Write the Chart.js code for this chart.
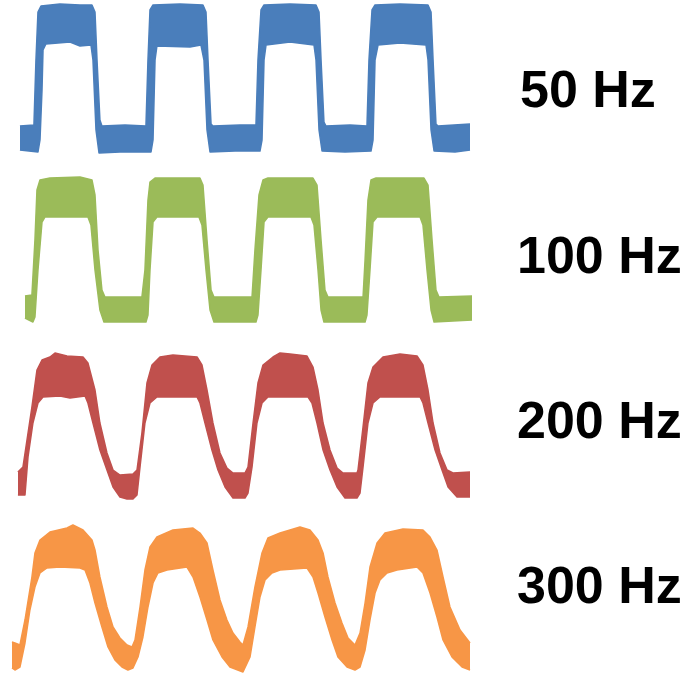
<!DOCTYPE html>
<html>
<head>
<meta charset="utf-8">
<script src="https://cdn.jsdelivr.net/npm/chart.js@4/dist/chart.umd.min.js"></script>
<style>
  html, body { margin: 0; padding: 0; background: #ffffff; }
  #wrap { position: relative; width: 688px; height: 677px; }
  #wrap canvas { position: absolute; left: 0; top: 0; }
  .freq {
    position: absolute;
    font-family: "Liberation Sans", Arial, sans-serif;
    font-weight: bold;
    font-size: 52px;
    line-height: 52px;
    color: #000000;
    white-space: nowrap;
  }
</style>
</head>
<body>
<div id="wrap"><canvas id="c" width="688" height="677"></canvas></div>
<script>
// Drive frequency of each captured trace
const freqLabels = ['50 Hz', '100 Hz', '200 Hz', '300 Hz'];

// Envelopes of each noisy trace: [time in drive cycles, signal level (V)]
// upper = top edge of the noise band, lower = bottom edge
const upper50 = [
  [-0.143, 0.12], [-0.018, 0.13], [0, 0.78], [0.018, 1.26], [0.045, 1.32], [0.214, 1.34], [0.393, 1.33],
  [0.5, 1.33], [0.527, 1.26], [0.545, 0.78], [0.571, 0.18], [0.589, 0.12], [0.795, 0.13], [0.982, 0.12],
  [1.0, 0.78], [1.018, 1.28], [1.045, 1.33], [1.286, 1.34], [1.491, 1.33], [1.518, 1.26], [1.536, 0.78],
  [1.563, 0.14], [1.580, 0.12], [1.821, 0.13], [1.964, 0.13], [1.982, 0.78], [2.009, 1.28], [2.036, 1.33],
  [2.268, 1.34], [2.5, 1.33], [2.527, 1.26], [2.545, 0.78], [2.571, 0.16], [2.589, 0.12], [2.804, 0.13],
  [2.955, 0.12], [2.973, 0.78], [3.0, 1.28], [3.027, 1.33], [3.25, 1.34], [3.5, 1.33], [3.527, 1.26],
  [3.545, 0.78], [3.571, 0.14], [3.589, 0.12], [3.875, 0.14]
];
const lower50 = [
  [-0.143, -0.12], [0.018, -0.14], [0.036, -0.02], [0.054, 0.48], [0.063, 0.88], [0.089, 0.94], [0.304, 0.96],
  [0.393, 0.92], [0.491, 0.93], [0.509, 0.78], [0.536, 0.08], [0.563, -0.15], [0.75, -0.14], [1.027, -0.14],
  [1.045, -0.02], [1.063, 0.78], [1.080, 0.92], [1.375, 0.91], [1.473, 0.93], [1.5, 0.78], [1.527, 0.08],
  [1.554, -0.14], [1.777, -0.13], [2.0, -0.13], [2.018, -0.02], [2.036, 0.78], [2.054, 0.93], [2.268, 0.96],
  [2.482, 0.93], [2.5, 0.78], [2.527, 0.08], [2.554, -0.13], [2.759, -0.14], [2.991, -0.13], [3.009, -0.02],
  [3.027, 0.78], [3.054, 0.93], [3.25, 0.95], [3.482, 0.93], [3.5, 0.78], [3.527, 0.08], [3.554, -0.13],
  [3.741, -0.14], [3.875, -0.12]
];

const upper100 = [
  [-0.098, 0.14], [-0.036, 0.15], [-0.009, 0.70], [0.009, 1.20], [0.036, 1.30], [0.125, 1.32], [0.393, 1.33],
  [0.5, 1.30], [0.527, 1.15], [0.554, 0.60], [0.589, 0.20], [0.616, 0.13], [0.946, 0.13], [0.973, 0.40],
  [1.0, 1.10], [1.018, 1.28], [1.063, 1.32], [1.464, 1.32], [1.491, 1.25], [1.527, 0.70], [1.563, 0.20],
  [1.589, 0.13], [1.929, 0.13], [1.955, 0.60], [1.991, 1.15], [2.027, 1.30], [2.071, 1.32], [2.473, 1.32],
  [2.509, 1.25], [2.545, 0.70], [2.580, 0.20], [2.607, 0.13], [2.920, 0.13], [2.938, 0.50], [2.964, 1.10],
  [2.991, 1.30], [3.036, 1.32], [3.464, 1.32], [3.5, 1.25], [3.536, 0.70], [3.571, 0.20], [3.598, 0.13],
  [3.893, 0.14]
];
const lower100 = [
  [-0.098, -0.08], [-0.027, -0.12], [-0.009, -0.07], [0.018, 0.40], [0.054, 0.88], [0.080, 0.93], [0.464, 0.93],
  [0.491, 0.85], [0.527, 0.40], [0.571, 0.0], [0.607, -0.12], [0.982, -0.12], [1.0, -0.05], [1.018, 0.40],
  [1.045, 0.88], [1.080, 0.93], [1.455, 0.93], [1.482, 0.85], [1.518, 0.40], [1.554, 0.0], [1.589, -0.12],
  [1.964, -0.12], [1.982, -0.05], [2.009, 0.40], [2.036, 0.88], [2.071, 0.93], [2.455, 0.93], [2.482, 0.85],
  [2.518, 0.40], [2.545, 0.0], [2.571, -0.12], [2.938, -0.12], [2.955, -0.05], [2.982, 0.40], [3.009, 0.88],
  [3.045, 0.93], [3.429, 0.93], [3.455, 0.85], [3.491, 0.40], [3.527, 0.0], [3.554, -0.12], [3.893, -0.10]
];

const upper200 = [
  [-0.161, 0.15], [-0.116, 0.20], [-0.036, 0.80], [0.009, 1.17], [0.054, 1.27], [0.125, 1.30], [0.170, 1.34],
  [0.277, 1.31], [0.420, 1.30], [0.464, 1.24], [0.527, 0.97], [0.571, 0.64], [0.634, 0.34], [0.688, 0.17],
  [0.75, 0.12], [0.866, 0.13], [0.902, 0.17], [0.946, 0.54], [0.991, 1.04], [1.036, 1.22], [1.107, 1.30],
  [1.223, 1.32], [1.438, 1.30], [1.482, 1.22], [1.527, 0.97], [1.580, 0.64], [1.643, 0.34], [1.705, 0.19],
  [1.759, 0.14], [1.866, 0.14], [1.893, 0.20], [1.938, 0.64], [1.982, 1.04], [2.027, 1.22], [2.116, 1.30],
  [2.179, 1.34], [2.268, 1.33], [2.420, 1.31], [2.473, 1.20], [2.518, 0.97], [2.563, 0.64], [2.625, 0.37],
  [2.688, 0.19], [2.741, 0.14], [2.866, 0.14], [2.875, 0.17], [2.920, 0.60], [2.964, 1.04], [3.009, 1.20],
  [3.098, 1.30], [3.25, 1.33], [3.402, 1.31], [3.455, 1.22], [3.5, 0.97], [3.545, 0.64], [3.607, 0.34],
  [3.670, 0.17], [3.723, 0.14], [3.875, 0.15]
];
const lower200 = [
  [-0.161, -0.08], [-0.098, -0.08], [-0.071, 0.30], [-0.027, 0.64], [0.018, 0.84], [0.063, 0.90], [0.214, 0.91],
  [0.304, 0.89], [0.438, 0.91], [0.464, 0.84], [0.509, 0.64], [0.571, 0.37], [0.634, 0.17], [0.688, 0.0],
  [0.75, -0.10], [0.813, -0.12], [0.866, -0.12], [0.902, -0.08], [0.929, 0.20], [0.973, 0.64], [1.018, 0.84],
  [1.080, 0.90], [1.438, 0.90], [1.464, 0.84], [1.509, 0.64], [1.571, 0.37], [1.625, 0.17], [1.688, 0.0],
  [1.759, -0.11], [1.866, -0.11], [1.893, -0.06], [1.929, 0.20], [1.973, 0.64], [2.018, 0.84], [2.071, 0.90],
  [2.429, 0.90], [2.464, 0.84], [2.509, 0.64], [2.563, 0.37], [2.625, 0.17], [2.688, 0.0], [2.759, -0.11],
  [2.866, -0.11], [2.893, -0.06], [2.920, 0.20], [2.964, 0.64], [3.009, 0.84], [3.071, 0.90], [3.429, 0.90],
  [3.455, 0.84], [3.5, 0.64], [3.563, 0.37], [3.625, 0.17], [3.679, 0.0], [3.759, -0.10], [3.875, -0.10]
];

const upper300 = [
  [-0.214, 0.15], [-0.188, 0.14], [-0.143, 0.12], [-0.098, 0.37], [-0.036, 0.80], [-0.009, 1.04], [0.036, 1.17],
  [0.125, 1.25], [0.277, 1.29], [0.330, 1.32], [0.420, 1.27], [0.5, 1.17], [0.527, 1.07], [0.571, 0.80],
  [0.634, 0.50], [0.688, 0.30], [0.75, 0.19], [0.813, 0.12], [0.857, 0.10], [0.884, 0.17], [0.929, 0.50],
  [0.973, 0.87], [1.018, 1.10], [1.080, 1.20], [1.223, 1.27], [1.402, 1.29], [1.464, 1.24], [1.527, 1.14],
  [1.580, 0.87], [1.643, 0.57], [1.705, 0.37], [1.759, 0.24], [1.821, 0.15], [1.848, 0.12], [1.893, 0.30],
  [1.955, 0.70], [2.018, 1.04], [2.071, 1.19], [2.179, 1.24], [2.357, 1.30], [2.446, 1.27], [2.518, 1.17],
  [2.563, 1.04], [2.607, 0.80], [2.670, 0.54], [2.732, 0.34], [2.786, 0.19], [2.848, 0.12], [2.893, 0.24],
  [2.938, 0.54], [2.982, 0.90], [3.045, 1.14], [3.116, 1.24], [3.277, 1.28], [3.455, 1.27], [3.518, 1.20],
  [3.580, 1.07], [3.634, 0.80], [3.696, 0.50], [3.786, 0.27], [3.875, 0.14]
];
const lower300 = [
  [-0.214, -0.11], [-0.188, -0.13], [-0.143, -0.10], [-0.098, 0.14], [-0.054, 0.47], [-0.009, 0.70], [0.036, 0.84],
  [0.098, 0.89], [0.214, 0.90], [0.393, 0.89], [0.438, 0.87], [0.482, 0.74], [0.527, 0.54], [0.589, 0.30],
  [0.643, 0.10], [0.705, -0.03], [0.768, -0.10], [0.821, -0.13], [0.866, -0.11], [0.911, 0.0], [0.955, 0.20],
  [1.0, 0.50], [1.045, 0.74], [1.089, 0.84], [1.170, 0.87], [1.348, 0.90], [1.402, 0.80], [1.464, 0.60],
  [1.527, 0.37], [1.580, 0.17], [1.661, 0.0], [1.732, -0.10], [1.848, -0.15], [1.911, 0.0], [1.955, 0.30],
  [2.0, 0.60], [2.045, 0.77], [2.107, 0.84], [2.179, 0.87], [2.420, 0.89], [2.473, 0.80], [2.518, 0.64],
  [2.580, 0.40], [2.643, 0.17], [2.696, 0.0], [2.777, -0.10], [2.848, -0.13], [2.893, -0.10], [2.938, 0.07],
  [2.982, 0.37], [3.027, 0.64], [3.071, 0.77], [3.134, 0.84], [3.223, 0.87], [3.402, 0.90], [3.455, 0.84],
  [3.518, 0.64], [3.580, 0.40], [3.634, 0.17], [3.714, 0.0], [3.804, -0.10], [3.875, -0.13]
];

const traces = [
  { upper: upper50,  lower: lower50,  color: '#4a7ebb' },
  { upper: upper100, lower: lower100, color: '#9bbb59' },
  { upper: upper200, lower: lower200, color: '#c0504d' },
  { upper: upper300, lower: lower300, color: '#f79646' }
];

// vertical offset (V) that stacks each trace below the previous one
const traceOffsets = [0, -1.72, -3.49, -5.19];

const toPoints = (pairs, off) => pairs.map(([t, v]) => ({ x: t, y: v + off }));

const datasets = [];
traces.forEach((tr, i) => {
  const common = {
    borderColor: tr.color,
    backgroundColor: tr.color,
    borderWidth: 1.5,
    pointRadius: 0,
    tension: 0,
    borderJoinStyle: 'round'
  };
  datasets.push({ ...common, label: freqLabels[i] + ' max', data: toPoints(tr.upper, traceOffsets[i]), fill: false });
  datasets.push({ ...common, label: freqLabels[i] + ' min', data: toPoints(tr.lower, traceOffsets[i]), fill: '-1' });
});

new Chart(document.getElementById('c'), {
  type: 'line',
  data: { datasets },
  options: {
    responsive: false,
    devicePixelRatio: 1,
    animation: false,
    layout: { padding: 0 },
    plugins: { legend: { display: false }, tooltip: { enabled: false } },
    scales: {
      x: { type: 'linear', display: false, min: -0.321, max: 5.821 },
      y: { type: 'linear', display: false, min: -5.39, max: 1.38 }
    }
  }
});

// frequency captions to the right of each trace
const labelPos = [[520, 63], [517, 229], [517, 394], [517, 559]];
const wrap = document.getElementById('wrap');
freqLabels.forEach((txt, i) => {
  const d = document.createElement('div');
  d.className = 'freq';
  d.textContent = txt;
  d.style.left = labelPos[i][0] + 'px';
  d.style.top = labelPos[i][1] + 'px';
  wrap.appendChild(d);
});
</script>
</body>
</html>
